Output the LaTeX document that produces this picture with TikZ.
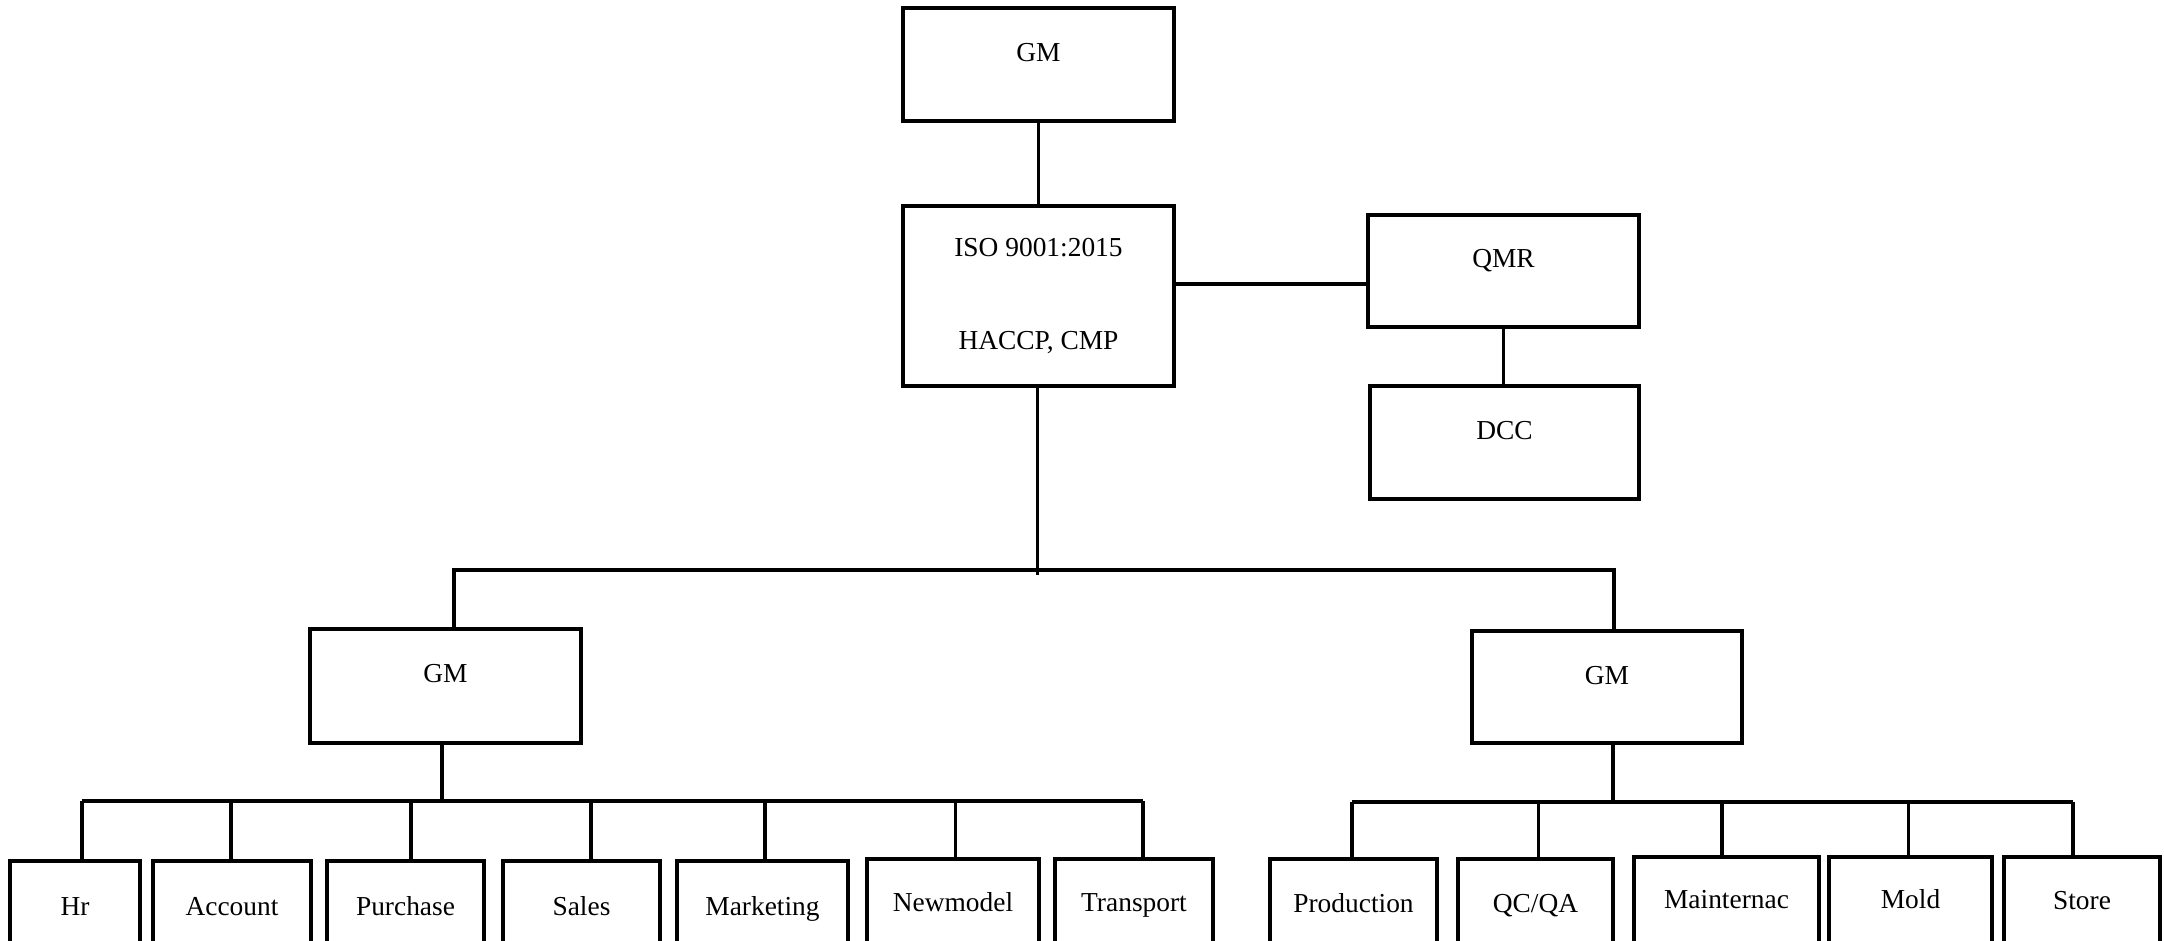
\documentclass[tikz,border=0pt]{standalone}
\usepackage{fontspec}
\setmainfont{Liberation Serif}
\begin{document}
\begin{tikzpicture}[
  box/.style={draw, line width=1.2pt, inner sep=0pt, font=\fontsize{7.8}{9}\selectfont},
  unit/.style={box, anchor=base},
  leaf/.style={box, anchor=base, text depth=1cm},
  conn/.style={line width=1.0pt},
]
\useasboundingbox (0,0) rectangle (21.64,-9.41);
\clip (0,0) rectangle (21.64,-9.41);

% upper part
\node[unit, minimum width=2.71cm, text height=0.53cm, text depth=0.60cm] (gm) at (10.385,-0.61) {GM};
\node[box, minimum width=2.71cm, minimum height=1.80cm, align=center] (iso) at (10.385,-2.96) {ISO 9001:2015\\[17.5pt]HACCP, CMP};
\node[unit, minimum width=2.71cm, text height=0.52cm, text depth=0.60cm] (qmr) at (15.035,-2.67) {QMR};
\node[unit, minimum width=2.69cm, text height=0.53cm, text depth=0.60cm] (dcc) at (15.045,-4.39) {DCC};
\node[unit, minimum width=2.71cm, text height=0.53cm, text depth=0.61cm] (lgm) at (4.455,-6.82) {GM};
\node[unit, minimum width=2.70cm, text height=0.53cm, text depth=0.59cm] (rgm) at (16.07,-6.84) {GM};

% bottom row, left
\node[leaf, minimum width=1.30cm, text height=0.54cm] (hr) at (0.75,-9.15) {Hr};
\node[leaf, minimum width=1.58cm, text height=0.54cm] (account) at (2.32,-9.15) {Account};
\node[leaf, minimum width=1.57cm, text height=0.54cm] (purchase) at (4.055,-9.15) {Purchase};
\node[leaf, minimum width=1.57cm, text height=0.54cm] (sales) at (5.815,-9.15) {Sales};
\node[leaf, minimum width=1.71cm, text height=0.54cm] (marketing) at (7.625,-9.15) {Marketing};
\node[leaf, minimum width=1.72cm, text height=0.52cm] (newmodel) at (9.53,-9.11) {Newmodel};
\node[leaf, minimum width=1.58cm, text height=0.52cm] (transport) at (11.34,-9.11) {Transport};
% bottom row, right
\node[leaf, minimum width=1.67cm, text height=0.53cm] (production) at (13.535,-9.12) {Production};
\node[leaf, minimum width=1.55cm, text height=0.53cm] (qcqa) at (15.355,-9.12) {QC/QA};
\node[leaf, minimum width=1.85cm, text height=0.51cm] (mainternac) at (17.265,-9.08) {Mainternac};
\node[leaf, minimum width=1.63cm, text height=0.51cm] (mold) at (19.105,-9.08) {Mold};
\node[leaf, minimum width=1.56cm, text height=0.52cm] (store) at (20.82,-9.09) {Store};

% connectors, top
\draw[conn] (gm.south) -- (iso.north);
\coordinate (mbar) at (10.375,-5.70);
\draw[conn] ([xshift=-0.01cm]iso.south) -- ([xshift=-0.01cm]iso.south |- 0,-5.75);
\draw[conn] ([xshift=0.085cm]lgm.north) -- ([xshift=0.085cm]lgm.north |- mbar)
  -- ([xshift=0.07cm]rgm.north |- mbar) -- ([xshift=0.07cm]rgm.north);
\draw[conn] ([yshift=0.12cm]iso.east) -- ([yshift=0.12cm]iso.east -| qmr.west);
\draw[conn] (qmr.south) -- (qmr.south |- dcc.north);

% left subtree
\coordinate (lbar) at (0,-8.01);
\draw[conn] ([xshift=-0.035cm]lgm.south) -- ([xshift=-0.035cm]lgm.south |- lbar);
\draw[conn] ([xshift=0.07cm]hr.north |- lbar) -- ([xshift=0.09cm]transport.north |- lbar);
\foreach \n/\s in {hr/0.07, account/-0.01, purchase/0.055, sales/0.095, marketing/0.025, newmodel/0.025, transport/0.09}
  \draw[conn] ([xshift=\s cm]\n.north) -- ([xshift=\s cm]\n.north |- lbar);

% right subtree
\coordinate (rbar) at (0,-8.02);
\draw[conn] ([xshift=0.06cm]rgm.south) -- ([xshift=0.06cm]rgm.south |- rbar);
\draw[conn] ([xshift=-0.015cm]production.north |- rbar) -- ([xshift=-0.09cm]store.north |- rbar);
\foreach \n/\s in {production/-0.015, qcqa/0.03, mainternac/-0.045, mold/-0.02, store/-0.09}
  \draw[conn] ([xshift=\s cm]\n.north) -- ([xshift=\s cm]\n.north |- rbar);
\end{tikzpicture}
\end{document}
